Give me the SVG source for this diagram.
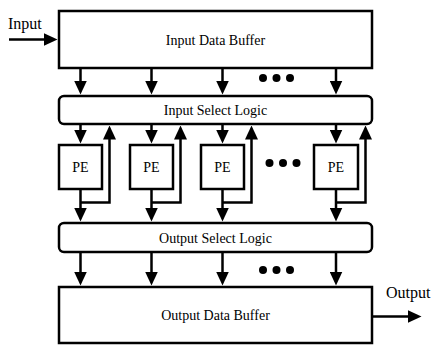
<svg xmlns="http://www.w3.org/2000/svg" width="432" height="345" viewBox="0 0 432 345">
<style>
.box{fill:#fff;stroke:#000;stroke-width:2.5}
.ln{fill:none;stroke:#000;stroke-width:2.5;marker-end:url(#ah)}
.lbl{font-family:"Liberation Serif","Times New Roman",serif;font-size:14px;fill:#000;text-anchor:middle}
.io{font-family:"Liberation Serif","Times New Roman",serif;font-size:16px;fill:#000}
.dot{fill:#000}
</style>
<defs>
<marker id="ah" markerUnits="userSpaceOnUse" markerWidth="14" markerHeight="13" refX="10" refY="6.5" orient="auto">
<path d="M0,0 L14,6.5 L0,13 Z" fill="#000"/>
</marker>
</defs>
<rect width="432" height="345" fill="#fff"/>
<g id="input-data-buffer"><rect class="box" x="59" y="11" width="313" height="57"/><text class="lbl" x="215.5" y="44.5">Input Data Buffer</text></g>
<g id="input-select-logic"><rect class="box" x="59" y="96" width="313" height="28" rx="5"/><text class="lbl" x="215.5" y="115">Input Select Logic</text></g>
<g id="pe1"><rect class="box" x="59" y="145" width="43" height="44"/><text class="lbl" x="80.5" y="172">PE</text></g>
<g id="pe2"><rect class="box" x="130" y="145" width="43" height="44"/><text class="lbl" x="151.5" y="172">PE</text></g>
<g id="pe3"><rect class="box" x="201" y="145" width="43" height="44"/><text class="lbl" x="222.5" y="172">PE</text></g>
<g id="pe4"><rect class="box" x="314" y="145" width="44" height="44"/><text class="lbl" x="336" y="172">PE</text></g>
<g id="output-select-logic"><rect class="box" x="59" y="223" width="313" height="29" rx="5"/><text class="lbl" x="215.5" y="242.5">Output Select Logic</text></g>
<g id="output-data-buffer"><rect class="box" x="59" y="287" width="313" height="56"/><text class="lbl" x="215.5" y="320">Output Data Buffer</text></g>
<g id="labels">
<text class="io" x="8" y="29">Input</text>
<text class="io" x="386" y="298">Output</text>
</g>
<g id="dots">
<circle class="dot" cx="263" cy="78" r="4"/><circle class="dot" cx="276.5" cy="78" r="4"/><circle class="dot" cx="290" cy="78" r="4"/>
<circle class="dot" cx="269.5" cy="163" r="4"/><circle class="dot" cx="283" cy="163" r="4"/><circle class="dot" cx="296.5" cy="163" r="4"/>
<circle class="dot" cx="263" cy="270" r="4"/><circle class="dot" cx="276.5" cy="270" r="4"/><circle class="dot" cx="290" cy="270" r="4"/>
</g>
<g id="connectors">
<path class="ln" d="M9,39.5 H53.5"/>
<path class="ln" d="M372,316.5 H417.5"/>
<path class="ln" d="M80.5,68 V90.5"/>
<path class="ln" d="M151.5,68 V90.5"/>
<path class="ln" d="M222.5,68 V90.5"/>
<path class="ln" d="M336,68 V90.5"/>
<path class="ln" d="M80.5,124 V139.5"/>
<path class="ln" d="M151.5,124 V139.5"/>
<path class="ln" d="M222.5,124 V139.5"/>
<path class="ln" d="M336,124 V139.5"/>
<path class="ln" d="M80.5,189 V217.5"/>
<path class="ln" d="M151.5,189 V217.5"/>
<path class="ln" d="M222.5,189 V217.5"/>
<path class="ln" d="M336,189 V217.5"/>
<path class="ln" d="M80.5,202.5 H109.5 V129.5"/>
<path class="ln" d="M151.5,202.5 H180.5 V129.5"/>
<path class="ln" d="M222.5,202.5 H251.5 V129.5"/>
<path class="ln" d="M336,202.5 H365.5 V129.5"/>
<path class="ln" d="M80.5,252 V281.5"/>
<path class="ln" d="M151.5,252 V281.5"/>
<path class="ln" d="M222.5,252 V281.5"/>
<path class="ln" d="M336,252 V281.5"/>
</g>
</svg>
